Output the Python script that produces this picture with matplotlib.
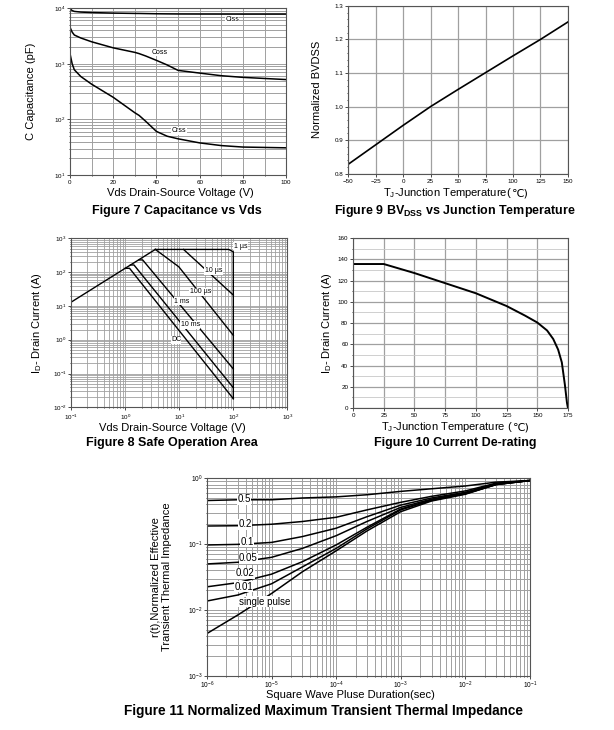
import numpy as np
import matplotlib
matplotlib.use("Agg")
import matplotlib.pyplot as plt
from matplotlib.ticker import LogLocator, MultipleLocator, NullFormatter, FormatStrFormatter
from matplotlib.offsetbox import TextArea, HPacker, AnchoredOffsetbox

plt.rcParams['font.family'] = ['Liberation Sans', 'DejaVu Sans']
plt.rcParams['mathtext.fontset'] = 'custom'
plt.rcParams['mathtext.rm'] = 'Liberation Sans'
plt.rcParams['mathtext.it'] = 'Liberation Sans:italic'
plt.rcParams['mathtext.bf'] = 'Liberation Sans:bold'

# Figure 7: capacitance vs Vds
vds_cap = [0, 1, 2, 5, 10, 20, 30, 32, 35, 40, 45, 50, 60, 70, 80, 100]
ciss = [9700, 9000, 8700, 8460, 8300, 8110, 8000, 7990, 7950, 7890, 7850, 7820, 7800, 7790, 7780, 7780]
coss = [4510, 3700, 3280, 2900, 2480, 1930, 1600, 1520, 1380, 1150, 950, 760, 680, 610, 570, 520]
crss = [1520, 1000, 780, 590, 430, 250, 132, 118, 93, 61, 50, 45, 38, 34, 32, 31]

# Figure 9: BVdss vs Tj
tj_bv = [-50, -25, 0, 25, 50, 75, 100, 125, 150]
bv_norm = [0.828, 0.886, 0.944, 1.0, 1.051, 1.101, 1.151, 1.2, 1.252]

# Figure 8: safe operating area
rds_v = [0.1, 3.6]
rds_i = [13, 470]
us1_v = [3.6, 82, 100, 100]
us1_i = [470, 470, 400, 0.018]
us10_v = [12, 100]
us10_i = [470, 21]
us100_v = [3.6, 9.8, 100]
us100_i = [470, 144, 1.35]
ms1_v = [1.8, 2.1, 100]
ms1_i = [230, 230, 0.137]
ms10_v = [1.25, 1.45, 100]
ms10_i = [163, 163, 0.038]
dc_v = [1.0, 1.2, 100]
dc_i = [130, 130, 0.018]

# Figure 10: current derating
tj_id = [0, 25, 50, 75, 100, 125, 140, 150, 158, 163, 167, 170, 172.5, 174.2, 175]
id_max = [135.5, 135.5, 127, 117.5, 108, 96, 87, 80.5, 73, 65, 55, 43, 22, 5, 0]

# Figure 11: transient thermal impedance
t_pulse = [1e-6, 3e-6, 1e-5, 3e-5, 1e-4, 3e-4, 1e-3, 3e-3, 1e-2, 3e-2, 1e-1]
zth = {
    '0.5': [0.458, 0.47, 0.47, 0.50, 0.52, 0.56, 0.63, 0.69, 0.76, 0.87, 0.92],
    '0.2': [0.188, 0.19, 0.20, 0.22, 0.255, 0.33, 0.43, 0.53, 0.64, 0.84, 0.92],
    '0.1': [0.097, 0.099, 0.106, 0.13, 0.174, 0.26, 0.39, 0.50, 0.61, 0.82, 0.92],
    '0.05': [0.05, 0.053, 0.063, 0.086, 0.134, 0.22, 0.36, 0.48, 0.60, 0.81, 0.92],
    '0.02': [0.0225, 0.026, 0.035, 0.054, 0.097, 0.18, 0.34, 0.47, 0.58, 0.80, 0.92],
    '0.01': [0.0137, 0.0169, 0.025, 0.045, 0.086, 0.17, 0.33, 0.46, 0.58, 0.80, 0.92],
    'single pulse': [0.0044, 0.0084, 0.0178, 0.038, 0.079, 0.158, 0.31, 0.45, 0.57, 0.80, 0.92],
}
zth_label_pos = {
    '0.5': (3.8e-6, 0.48), '0.2': (3.9e-6, 0.2), '0.1': (4.2e-6, 0.108),
    '0.05': (4.4e-6, 0.0607), '0.02': (3.9e-6, 0.036), '0.01': (3.7e-6, 0.0225),
    'single pulse': (7.8e-6, 0.0133),
}

GRID = '#a0a0a0'
TICK = 4.5
LAB = 8
TITLE = 9
box = dict(facecolor='white', edgecolor='none', pad=0.3)


def style(ax):
    for s in ax.spines.values():
        s.set_color('#555555')
        s.set_linewidth(0.8)
    ax.tick_params(which='both', labelsize=TICK, length=2, width=0.5, pad=1.5)
    ax.tick_params(which='minor', length=1)
    ax.set_axisbelow(True)


def tj_label(fig, x, y, rest):
    # T_J label: mathtext part in Liberation, the degree-C sign from DejaVu
    parts = [TextArea('T$_{\\rm J}$-Junction Temperature' + rest, textprops=dict(fontsize=LAB)),
             TextArea('\u2103)', textprops=dict(fontsize=LAB, family=['DejaVu Sans']))]
    pack = HPacker(children=parts, align='baseline', pad=0, sep=0)
    anc = AnchoredOffsetbox(loc='center', child=pack, pad=0, borderpad=0, frameon=False,
                            bbox_to_anchor=(x, y), bbox_transform=fig.transFigure)
    fig.add_artist(anc)


fig = plt.figure(figsize=(6.14, 7.30), dpi=100)

# ---- Figure 7
ax = fig.add_axes([0.114, 0.760, 0.352, 0.229])
ax.set_yscale('log')
ax.plot(vds_cap, ciss, color='black', lw=1.1)
ax.plot(vds_cap, coss, color='black', lw=1.1)
ax.plot(vds_cap, crss, color='black', lw=1.1)
ax.set_xlim(0, 100)
ax.set_ylim(10, 1e4)
ax.xaxis.set_major_locator(MultipleLocator(20))
ax.xaxis.set_minor_locator(MultipleLocator(10))
ax.yaxis.set_minor_formatter(NullFormatter())
ax.grid(which='both', color=GRID, lw=0.7)
ax.text(75, 6300, 'Ciss', fontsize=5, ha='center', va='center', bbox=box)
ax.text(41.5, 1600, 'Coss', fontsize=5, ha='center', va='center', bbox=box)
ax.text(50.5, 63, 'Crss', fontsize=5, ha='center', va='center', bbox=box)
ax.set_ylabel('C Capacitance (pF)', fontsize=LAB, labelpad=13)
style(ax)
fig.text(180 / 614, 1 - 193 / 730, 'Vds Drain-Source Voltage (V)', fontsize=LAB, ha='center', va='center')
fig.text(177 / 614, 1 - 211 / 730, 'Figure 7 Capacitance vs Vds', fontsize=TITLE,
         fontweight='bold', ha='center', va='center')

# ---- Figure 9
ax = fig.add_axes([0.567, 0.762, 0.358, 0.230])
ax.plot(tj_bv, bv_norm, color='black', lw=1.2)
ax.set_xlim(-50, 150)
ax.set_ylim(0.8, 1.3)
ax.xaxis.set_major_locator(MultipleLocator(25))
ax.yaxis.set_major_locator(MultipleLocator(0.1))
ax.yaxis.set_minor_locator(MultipleLocator(0.02))
ax.yaxis.set_major_formatter(FormatStrFormatter('%.1f'))
ax.grid(which='major', color=GRID, lw=0.9)
ax.set_ylabel('Normalized BVDSS', fontsize=LAB, labelpad=9)
style(ax)
tj_label(fig, 456 / 614, 1 - 193 / 730, '(')
fig.text(455 / 614, 1 - 211 / 730, 'Figure 9 BV$_{\\mathbf{DSS}}$ vs Junction Temperature',
         fontsize=TITLE, fontweight='bold', ha='center', va='center')

# ---- Figure 8
ax = fig.add_axes([0.116, 0.442, 0.352, 0.2315])
ax.set_xscale('log')
ax.set_yscale('log')
for xs, ys in [(rds_v, rds_i), (us1_v, us1_i), (us10_v, us10_i), (us100_v, us100_i),
               (ms1_v, ms1_i), (ms10_v, ms10_i), (dc_v, dc_i)]:
    ax.plot(xs, ys, color='black', lw=1.0)
ax.set_xlim(0.1, 1000)
ax.set_ylim(0.01, 1000)
ax.xaxis.set_minor_locator(LogLocator(subs=np.arange(2, 10)))
ax.yaxis.set_minor_locator(LogLocator(subs=np.arange(2, 10)))
ax.xaxis.set_minor_formatter(NullFormatter())
ax.yaxis.set_minor_formatter(NullFormatter())
ax.grid(which='both', color=GRID, lw=0.6)
for txt, x, y in [('1 \u00b5s', 135, 590), ('10 \u00b5s', 43, 110), ('100 \u00b5s', 24.5, 26),
                  ('1 ms', 11.2, 13.8), ('10 ms', 16, 2.8), ('DC', 8.7, 1.0)]:
    ax.text(x, y, txt, fontsize=5, ha='center', va='center', bbox=box)
ax.set_ylabel('I$_{\\rm D}$- Drain Current (A)', fontsize=LAB, labelpad=6)
style(ax)
fig.text(172 / 614, 1 - 428 / 730, 'Vds Drain-Source Voltage (V)', fontsize=LAB, ha='center', va='center')
fig.text(172 / 614, 1 - 443 / 730, 'Figure 8 Safe Operation Area', fontsize=TITLE,
         fontweight='bold', ha='center', va='center')

# ---- Figure 10
ax = fig.add_axes([0.575, 0.441, 0.350, 0.233])
ax.plot(tj_id, id_max, color='black', lw=1.4)
ax.set_xlim(0, 175)
ax.set_ylim(0, 160)
ax.xaxis.set_major_locator(MultipleLocator(25))
ax.yaxis.set_major_locator(MultipleLocator(20))
ax.yaxis.set_minor_locator(MultipleLocator(10))
ax.grid(which='major', color=GRID, lw=0.9)
ax.grid(which='minor', axis='y', color='#c8c8c8', lw=0.6)
ax.set_ylabel('I$_{\\rm D}$- Drain Current (A)', fontsize=LAB, labelpad=3)
style(ax)
tj_label(fig, 455 / 614, 1 - 427 / 730, ' (')
fig.text(455 / 614, 1 - 443 / 730, 'Figure 10 Current De-rating', fontsize=TITLE,
         fontweight='bold', ha='center', va='center')

# ---- Figure 11
ax = fig.add_axes([0.337, 0.074, 0.526, 0.271])
ax.set_xscale('log')
ax.set_yscale('log')
for name, vals in zth.items():
    ax.plot(t_pulse, vals, color='black', lw=1.1)
    lx, ly = zth_label_pos[name]
    ax.text(lx, ly, name, fontsize=7, ha='center', va='center', bbox=box)
ax.set_xlim(1e-6, 1e-1)
ax.set_ylim(1e-3, 1)
ax.xaxis.set_minor_locator(LogLocator(subs=np.arange(2, 10)))
ax.yaxis.set_minor_locator(LogLocator(subs=np.arange(2, 10)))
ax.xaxis.set_minor_formatter(NullFormatter())
ax.yaxis.set_minor_formatter(NullFormatter())
ax.grid(which='both', color=GRID, lw=0.7)
ax.set_ylabel('r(t),Normalized Effective\nTransient Thermal Impedance', fontsize=LAB,
              labelpad=12, linespacing=1.1)
style(ax)
ax.tick_params(which='major', labelsize=4.8, pad=1)
fig.text(350 / 614, 1 - 695 / 730, 'Square Wave Pluse Duration(sec)', fontsize=LAB,
         ha='center', va='center')
fig.text(324 / 614, 1 - 711 / 730, 'Figure 11 Normalized Maximum Transient Thermal Impedance',
         fontsize=9.8, fontweight='bold', ha='center', va='center')

fig.savefig('out.png', dpi=100)
